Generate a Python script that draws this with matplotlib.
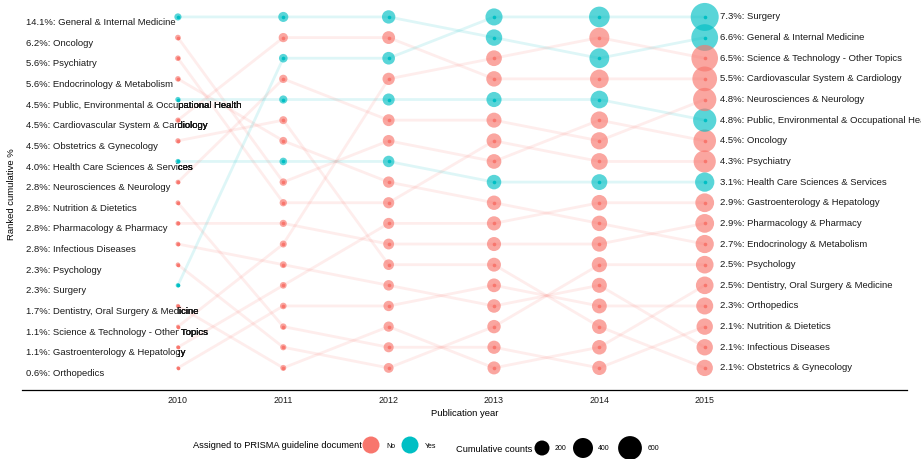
import numpy as np
import matplotlib
matplotlib.use("Agg")
import matplotlib.pyplot as plt
from matplotlib.transforms import Bbox, TransformedBbox

plt.rcParams['font.family'] = ['Liberation Sans', 'DejaVu Sans']

years = [2010, 2011, 2012, 2013, 2014, 2015]

categories = [
    "General & Internal Medicine", "Oncology", "Psychiatry",
    "Endocrinology & Metabolism", "Public, Environmental & Occupational Health",
    "Cardiovascular System & Cardiology", "Obstetrics & Gynecology",
    "Health Care Sciences & Services", "Neurosciences & Neurology",
    "Nutrition & Dietetics", "Pharmacology & Pharmacy", "Infectious Diseases",
    "Psychology", "Surgery", "Dentistry, Oral Surgery & Medicine",
    "Science & Technology - Other Topics", "Gastroenterology & Hepatology",
    "Orthopedics",
]
prisma = ["Yes", "No", "No", "No", "Yes", "No", "No", "Yes", "No",
          "No", "No", "No", "No", "Yes", "No", "No", "No", "No"]

rank_2010 = [1, 2, 3, 4, 5, 6, 7, 8, 9, 10, 11, 12, 13, 14, 15, 16, 17, 18]
rank_2011 = [1, 9, 10, 7, 5, 2, 6, 8, 4, 16, 11, 13, 17, 3, 18, 12, 14, 15]
rank_2012 = [1, 7, 10, 9, 5, 2, 13, 8, 6, 17, 12, 14, 18, 3, 16, 4, 11, 15]
rank_2013 = [2, 8, 7, 10, 5, 4, 13, 9, 6, 17, 12, 15, 16, 1, 18, 3, 11, 14]
rank_2014 = [3, 6, 8, 11, 5, 4, 16, 9, 7, 18, 12, 14, 13, 1, 17, 2, 10, 15]
rank_2015 = [2, 7, 8, 12, 6, 4, 18, 9, 5, 16, 11, 17, 13, 1, 14, 3, 10, 15]

count_2010 = [25, 11, 10, 10, 8, 8, 8, 7, 5, 5, 5, 5, 4, 4, 3, 2, 2, 1]
count_2011 = [70, 28, 27, 33, 38, 55, 35, 30, 40, 17, 25, 21, 15, 45, 13, 23, 20, 19]
count_2012 = [150, 105, 94, 97, 115, 135, 82, 100, 110, 70, 86, 79, 66, 130, 73, 120, 90, 76]
count_2013 = [250, 190, 195, 180, 205, 215, 165, 185, 200, 145, 170, 155, 150, 275, 140, 225, 175, 160]
count_2014 = [390, 290, 260, 215, 300, 340, 190, 230, 280, 175, 210, 200, 205, 430, 185, 400, 220, 195]
count_2015 = [782, 533, 510, 320, 568, 652, 247, 367, 569, 249, 343, 248, 297, 865, 296, 770, 344, 272]

pct_2010 = [14.1, 6.2, 5.6, 5.6, 4.5, 4.5, 4.5, 4.0, 2.8, 2.8, 2.8, 2.8, 2.3, 2.3, 1.7, 1.1, 1.1, 0.6]
pct_2015 = [6.6, 4.5, 4.3, 2.7, 4.8, 5.5, 2.1, 3.1, 4.8, 2.1, 2.9, 2.1, 2.5, 7.3, 2.5, 6.5, 2.9, 2.3]

size_breaks = [200, 400, 600]

colors = {"No": "#F8766D", "Yes": "#00BFC4"}

ranks = np.array([rank_2010, rank_2011, rank_2012, rank_2013, rank_2014, rank_2015]).T
counts = np.array([count_2010, count_2011, count_2012, count_2013, count_2014, count_2015]).T

DPI = 100
fig = plt.figure(figsize=(9.21, 4.59), dpi=DPI)
ax = fig.add_axes([22 / 921, 1 - 390 / 459, (907 - 22) / 921, 390 / 459])
ax.set_xlim(2008.52, 2016.92)
ax.set_ylim(19.07, 0.18)

cmin, cmax = counts.min(), counts.max()


def size_px(c):
    c = np.asarray(c, dtype=float)
    return 3 + 25 * np.sqrt((c - cmin) / (cmax - cmin))


def s_of(c):
    return (size_px(c) * 72 / DPI) ** 2


# lines
for i, cat in enumerate(categories):
    ax.plot(years, ranks[i], color=colors[prisma[i]], alpha=0.13, lw=2.0,
            solid_capstyle='butt', zorder=1)

# halos and centre dots
for i, cat in enumerate(categories):
    col = colors[prisma[i]]
    ax.scatter(years, ranks[i], s=s_of(counts[i]), color=col, alpha=0.65,
               linewidths=0, zorder=2)
for i, cat in enumerate(categories):
    col = colors[prisma[i]]
    ax.scatter(years, ranks[i], s=(3.6 * 72 / DPI) ** 2, color=col,
               linewidths=0, zorder=3)

# labels
fs = 6.8
clipbox = TransformedBbox(Bbox([[2010, -5], [2020, 30]]), ax.transData)
for i, cat in enumerate(categories):
    lab = f"{pct_2010[i]:.1f}%: {cat}"
    ax.text(2010 - 1.44, rank_2010[i] + 0.27, lab, ha='left', va='center',
            fontsize=fs, color='#1a1a1a', zorder=4)
    for _ in range(3):
        t = ax.text(2010 - 1.44, rank_2010[i] + 0.27, lab, ha='left', va='center',
                    fontsize=fs, color='#1a1a1a', zorder=4)
        t.set_clip_on(True)
        t.set_clip_box(clipbox)
    lab2 = f"{pct_2015[i]:.1f}%: {cat}"
    ax.text(2015 + 0.145, rank_2015[i], lab2, ha='left', va='center',
            fontsize=fs, color='#1a1a1a', zorder=4)

for sp in ['top', 'right', 'left']:
    ax.spines[sp].set_visible(False)
ax.spines['bottom'].set_linewidth(0.9)
ax.spines['bottom'].set_color('black')
ax.set_yticks([])
ax.set_xticks(years)
ax.set_xticklabels([str(y) for y in years])
ax.tick_params(axis='x', length=0, pad=4.5, labelsize=6.4, labelcolor='#1a1a1a')
ax.set_xlabel("Publication year", fontsize=6.8, labelpad=3, color='black')
ax.patch.set_alpha(0)

fig.text(12 / 921, 1 - 194 / 459, "Ranked cumulative %", rotation=90,
         ha='center', va='center', fontsize=6.8, color='black')

# legend area
lax = fig.add_axes([0, 0, 1, 46 / 459])
lax.set_xlim(0, 921)
lax.set_ylim(459, 413)
lax.axis('off')

lax.text(193, 446, "Assigned to PRISMA guideline document", ha='left', va='center',
         fontsize=6.7, color='black')
lax.scatter([371, 410], [445, 445], s=(17 * 72 / DPI) ** 2,
            color=[colors["No"], colors["Yes"]], linewidths=0)
lax.text(386, 446, "No", ha='left', va='center', fontsize=5.0)
lax.text(425, 446, "Yes", ha='left', va='center', fontsize=5.0)

lax.text(456, 449, "Cumulative counts", ha='left', va='center', fontsize=6.7, color='black')
bx = [542, 583, 630]
lax.scatter(bx, [448] * 3, s=s_of(size_breaks), color='black', linewidths=0)
for x, b in zip([555, 598, 648], size_breaks):
    lax.text(x, 448, str(b), ha='left', va='center', fontsize=5.0)

fig.savefig("out.png", dpi=DPI)
